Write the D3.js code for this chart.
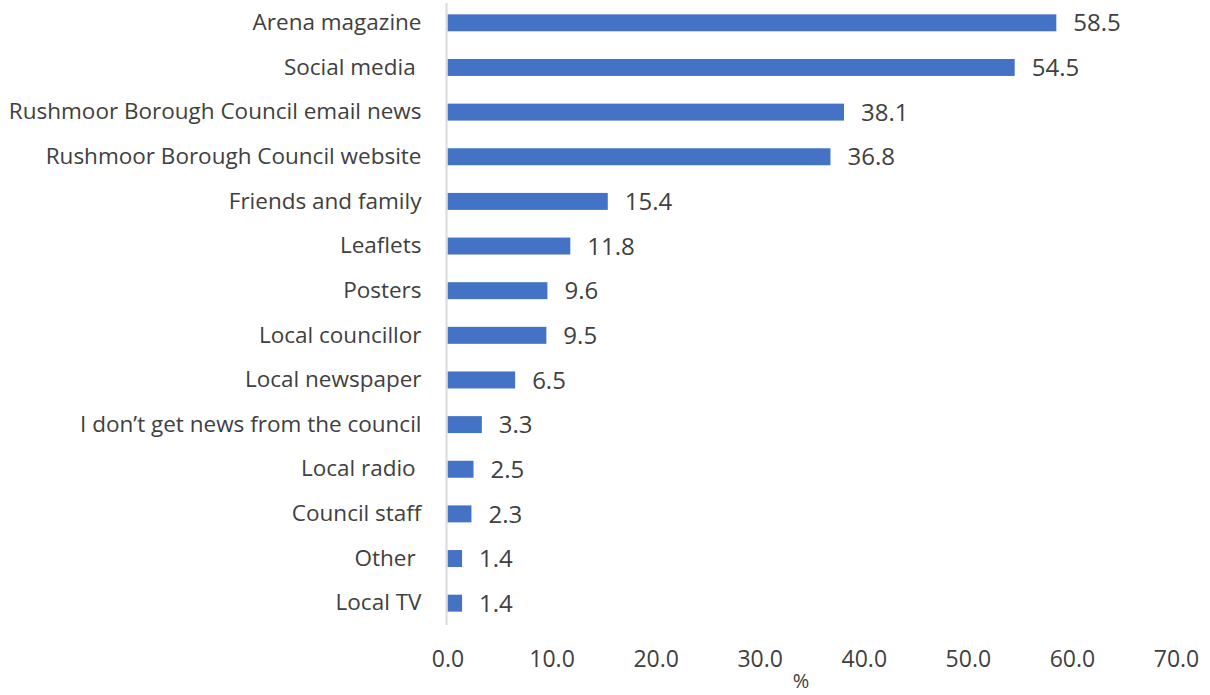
<!DOCTYPE html>
<html>
<head>
<meta charset="utf-8">
<script src="https://cdn.jsdelivr.net/npm/d3@7"></script>
<style>
  html, body { margin: 0; padding: 0; background: #fff; }
  svg { display: block; font-family: "Open Sans", "Noto Sans", sans-serif; }
</style>
</head>
<body>
<svg id="chart" width="1210" height="695"></svg>
<script>
// Sources of council news, % of respondents
const categories = [
  "Arena magazine",
  "Social media ",
  "Rushmoor Borough Council email news",
  "Rushmoor Borough Council website",
  "Friends and family",
  "Leaflets",
  "Posters",
  "Local councillor",
  "Local newspaper",
  "I don\u2019t get news from the council",
  "Local radio ",
  "Council staff",
  "Other ",
  "Local TV"
];
const values = [58.5, 54.5, 38.1, 36.8, 15.4, 11.8, 9.6, 9.5, 6.5, 3.3, 2.5, 2.3, 1.4, 1.4];
const xTicks = [0, 10, 20, 30, 40, 50, 60, 70];
const xTitle = "%";

const svg = d3.select("#chart");
const textColor = "#404040";
const barColor = "#4472C4";

const x = d3.scaleLinear().domain([0, 70]).range([447.5, 1176]);
const y = d3.scaleBand().domain(categories).range([0.5, 625.5]).paddingInner(0.62).paddingOuter(0.31);

// bars
svg.append("g").selectAll("rect")
  .data(values)
  .join("rect")
  .attr("x", x(0))
  .attr("y", (d, i) => y(categories[i]))
  .attr("width", d => x(d) - x(0))
  .attr("height", y.bandwidth())
  .attr("fill", barColor);

// value labels
svg.append("g").selectAll("text")
  .data(values)
  .join("text")
  .attr("x", d => x(d) + 17)
  .attr("y", (d, i) => y(categories[i]) + y.bandwidth() / 2)
  .attr("dy", "0.36em")
  .attr("font-size", 24)
  .attr("fill", textColor)
  .text(d => d.toFixed(1));

// category axis
const yAxis = svg.append("g")
  .attr("transform", `translate(${x(0) - 1},0)`)
  .call(d3.axisLeft(y).tickSize(0).tickPadding(25));
yAxis.select(".domain").attr("stroke", "#d9d9d9").attr("stroke-width", 2)
  .attr("d", "M0,3V625");
yAxis.selectAll("text").attr("font-size", 22.5).attr("fill", textColor)
  .attr("font-family", "\"Open Sans\", sans-serif").style("white-space", "pre");

// value axis (labels only)
const xAxis = svg.append("g")
  .attr("transform", "translate(0,651)")
  .call(d3.axisBottom(x).tickValues(xTicks).tickFormat(d3.format(".1f")).tickSize(0).tickPadding(0));
xAxis.select(".domain").remove();
xAxis.selectAll("text").attr("font-size", 23).attr("fill", textColor)
  .attr("font-family", "\"Open Sans\", sans-serif");

svg.append("text")
  .attr("x", 801)
  .attr("y", 688)
  .attr("text-anchor", "middle")
  .attr("font-size", 20)
  .attr("fill", textColor)
  .text(xTitle);
</script>
</body>
</html>
